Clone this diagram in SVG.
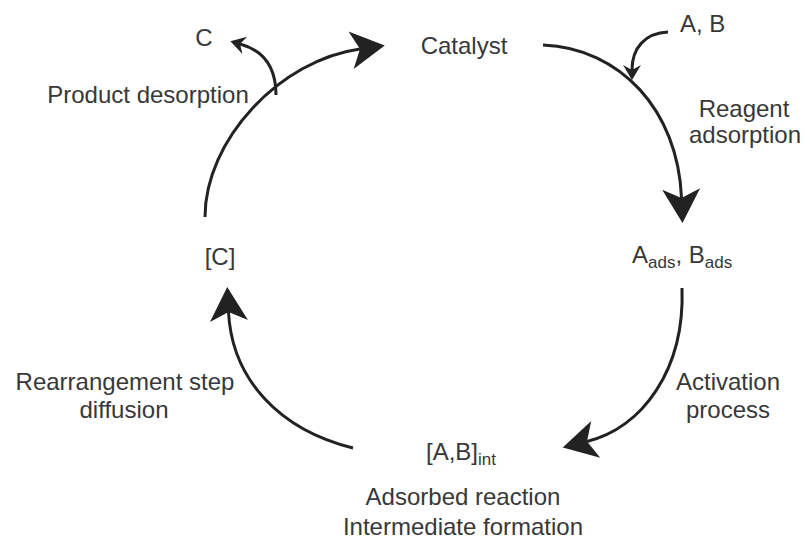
<svg xmlns="http://www.w3.org/2000/svg" width="804" height="539" viewBox="0 0 804 539">
<style>
  text { font-family: "Liberation Sans", Arial, sans-serif; font-size: 24px; fill: #383838; }
  .c { text-anchor: middle; }
  .sub { font-size: 17px; }
  .conn path { fill: none; stroke: #222; stroke-width: 3; }
</style>
<defs>
  <marker id="big" viewBox="-36 -21 38 42" markerWidth="38" markerHeight="42" refX="-25" refY="0" orient="auto" markerUnits="userSpaceOnUse">
    <path d="M0,0 L-34,-19 L-25,0 L-34,19 Z" fill="#222"/>
  </marker>
  <marker id="small" viewBox="-17 -11 19 22" markerWidth="19" markerHeight="22" refX="-10" refY="0" orient="auto" markerUnits="userSpaceOnUse">
    <path d="M0,0 L-15,-9 L-10,0 L-15,9 Z" fill="#222"/>
  </marker>
</defs>
<rect width="804" height="539" fill="#fff"/>
<g id="connectors" class="conn">
  <path d="M543,45 C620,48 678,110 681.5,198" marker-end="url(#big)"/>
  <path d="M668,32 C645,33 632,48 632,70" marker-end="url(#small)"/>
  <path d="M682,288 C685,370 642,428 587,441.5" marker-end="url(#big)"/>
  <path d="M353,448 C280,430 232,380 228.5,312" marker-end="url(#big)"/>
  <path d="M205,217 C205,140 280,60 360,49" marker-end="url(#big)"/>
  <path d="M276,95 C276,65 262,50 240,44" marker-end="url(#small)"/>
</g>
<g id="catalyst"><text class="c" x="464" y="54">Catalyst</text></g>
<g id="ab"><text x="680" y="32">A, B</text></g>
<g id="reagent-adsorption"><text class="c" x="744" y="117">Reagent</text><text class="c" x="745" y="143">adsorption</text></g>
<g id="ads"><text x="632" y="263">A<tspan class="sub" dy="5">ads</tspan><tspan dy="-5">, B</tspan><tspan class="sub" dy="5">ads</tspan></text></g>
<g id="activation"><text class="c" x="728" y="390">Activation</text><text class="c" x="728" y="418">process</text></g>
<g id="intermediate"><text x="426" y="460">[A,B]<tspan class="sub" dy="5">int</tspan></text></g>
<g id="adsorbed-reaction"><text class="c" x="463" y="505">Adsorbed reaction</text><text class="c" x="463" y="535">Intermediate formation</text></g>
<g id="rearrangement"><text class="c" x="125" y="390">Rearrangement step</text><text class="c" x="124" y="418">diffusion</text></g>
<g id="c-bracket"><text class="c" x="220" y="265">[C]</text></g>
<g id="product-desorption"><text class="c" x="148" y="103">Product desorption</text></g>
<g id="c-product"><text class="c" x="204" y="46">C</text></g>
</svg>
